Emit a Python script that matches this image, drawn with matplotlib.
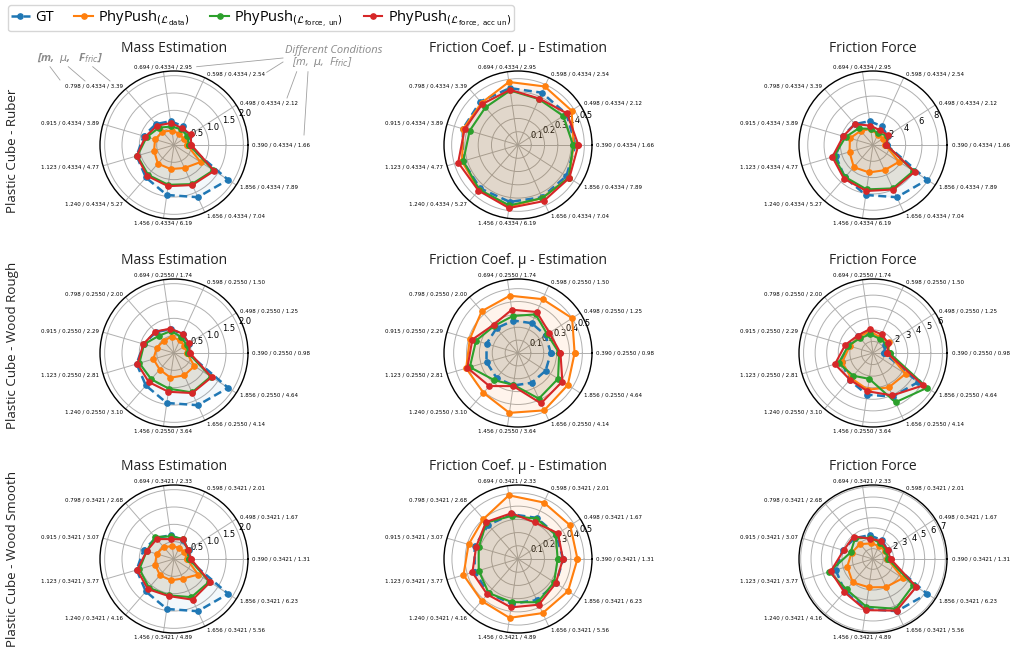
import numpy as np
import matplotlib
matplotlib.use("Agg")
import matplotlib.pyplot as plt
from matplotlib.lines import Line2D
from matplotlib.ticker import MaxNLocator
import matplotlib.transforms as mtransforms

# ---------------- data ----------------
mass = [0.390, 0.498, 0.598, 0.694, 0.798, 0.915, 1.123, 1.240, 1.456, 1.656, 1.856]
mu_ruber, mu_rough, mu_smooth = 0.4334, 0.2550, 0.3421
F_ruber = [1.66, 2.12, 2.54, 2.95, 3.39, 3.89, 4.77, 5.27, 6.19, 7.04, 7.89]
F_rough = [0.98, 1.25, 1.50, 1.74, 2.00, 2.29, 2.81, 3.10, 3.64, 4.14, 4.64]
F_smooth = [1.31, 1.67, 2.01, 2.33, 2.68, 3.07, 3.77, 4.16, 4.89, 5.56, 6.23]

# Ruber
ruber_mass_data = [0.38, 0.33, 0.36, 0.42, 0.51, 0.57, 0.60, 0.71, 0.70, 0.73, 0.91]
ruber_mass_fun = [0.44, 0.46, 0.50, 0.54, 0.66, 0.82, 1.10, 1.14, 1.16, 1.24, 1.35]
ruber_mass_facc = [0.50, 0.57, 0.54, 0.64, 0.74, 0.86, 1.12, 1.18, 1.20, 1.27, 1.38]
ruber_mu_data = [0.42, 0.48, 0.485, 0.48, 0.42, 0.43, 0.44, 0.45, 0.47, 0.44, 0.455]
ruber_mu_fun = [0.415, 0.405, 0.38, 0.415, 0.375, 0.38, 0.43, 0.445, 0.46, 0.44, 0.455]
ruber_mu_facc = [0.455, 0.44, 0.385, 0.42, 0.41, 0.42, 0.47, 0.455, 0.48, 0.465, 0.46]
ruber_F_data = [1.5, 1.45, 1.4, 2.0, 2.3, 2.95, 3.0, 3.6, 3.4, 3.4, 3.8]
ruber_F_fun = [1.65, 2.1, 1.6, 2.0, 2.7, 3.5, 5.0, 5.2, 5.5, 5.85, 5.9]
ruber_F_facc = [1.65, 2.2, 2.0, 2.4, 3.4, 3.8, 5.2, 5.45, 5.7, 6.0, 6.07]

# Wood rough
rough_mass_data = [0.37, 0.36, 0.40, 0.48, 0.46, 0.52, 0.62, 0.63, 0.72, 0.71, 0.70]
rough_mass_fun = [0.41, 0.43, 0.51, 0.64, 0.66, 0.90, 1.04, 1.00, 1.04, 1.25, 1.26]
rough_mass_facc = [0.46, 0.51, 0.61, 0.71, 0.82, 0.92, 1.10, 1.11, 1.13, 1.27, 1.29]
rough_mu_data = [0.44, 0.50, 0.46, 0.45, 0.43, 0.39, 0.42, 0.41, 0.47, 0.49, 0.46]
rough_mu_fun = [0.32, 0.27, 0.33, 0.29, 0.28, 0.34, 0.39, 0.28, 0.25, 0.39, 0.37]
rough_mu_facc = [0.33, 0.29, 0.35, 0.34, 0.29, 0.37, 0.41, 0.34, 0.26, 0.43, 0.41]
rough_F_data = [1.3, 1.68, 1.5, 1.9, 1.85, 2.1, 2.77, 2.88, 3.2, 3.27, 3.34]
rough_F_fun = [1.43, 1.4, 1.36, 1.63, 1.7, 2.23, 3.1, 2.6, 2.26, 4.68, 5.56]
rough_F_facc = [1.23, 1.56, 1.77, 2.08, 2.0, 2.5, 3.43, 3.05, 3.34, 4.03, 5.17]

# Wood smooth
smooth_mass_data = [0.37, 0.35, 0.36, 0.37, 0.46, 0.52, 0.57, 0.62, 0.62, 0.62, 0.83]
smooth_mass_fun = [0.44, 0.48, 0.64, 0.66, 0.84, 0.82, 1.04, 1.10, 1.06, 1.21, 1.21]
smooth_mass_facc = [0.49, 0.49, 0.62, 0.58, 0.76, 0.82, 1.11, 1.15, 1.08, 1.29, 1.24]
smooth_mu_data = [0.45, 0.47, 0.47, 0.487, 0.40, 0.39, 0.43, 0.42, 0.45, 0.45, 0.45]
smooth_mu_fun = [0.30, 0.34, 0.335, 0.33, 0.365, 0.31, 0.31, 0.34, 0.33, 0.36, 0.325]
smooth_mu_facc = [0.34, 0.36, 0.305, 0.35, 0.37, 0.33, 0.36, 0.355, 0.37, 0.38, 0.34]
smooth_F_data = [1.4, 1.43, 1.4, 1.53, 1.9, 2.16, 2.6, 3.0, 2.77, 3.0, 3.43]
smooth_F_fun = [1.47, 1.5, 1.7, 2.08, 2.65, 2.26, 4.42, 3.9, 4.66, 5.3, 4.65]
smooth_F_facc = [1.7, 1.67, 1.9, 2.0, 2.88, 2.97, 4.27, 4.24, 5.0, 5.5, 4.98]

row_names = ["Plastic Cube - Ruber", "Plastic Cube - Wood Rough", "Plastic Cube - Wood Smooth"]
col_titles = ["Mass Estimation", "Friction Coef. \u03bc - Estimation", "Friction Force"]
series_names = ["GT",
                r"PhyPush$_{(\mathcal{L}_{\mathrm{data}})}$",
                r"PhyPush$_{(\mathcal{L}_{\mathrm{force,\ un}})}$",
                r"PhyPush$_{(\mathcal{L}_{\mathrm{force,\ acc\ un}})}$"]
colors = ["#1f77b4", "#ff7f0e", "#2ca02c", "#d62728"]

rows = [
    (mu_ruber, F_ruber,
     [ruber_mass_data, ruber_mass_fun, ruber_mass_facc],
     [ruber_mu_data, ruber_mu_fun, ruber_mu_facc],
     [ruber_F_data, ruber_F_fun, ruber_F_facc]),
    (mu_rough, F_rough,
     [rough_mass_data, rough_mass_fun, rough_mass_facc],
     [rough_mu_data, rough_mu_fun, rough_mu_facc],
     [rough_F_data, rough_F_fun, rough_F_facc]),
    (mu_smooth, F_smooth,
     [smooth_mass_data, smooth_mass_fun, smooth_mass_facc],
     [smooth_mu_data, smooth_mu_fun, smooth_mu_facc],
     [smooth_F_data, smooth_F_fun, smooth_F_facc]),
]

# ---------------- figure ----------------
plt.rcParams["font.family"] = ["Open Sans", "DejaVu Sans"]
W, H = 1021, 653
fig = plt.figure(figsize=(W / 100, H / 100), dpi=100)

n = len(mass)
angles = np.arange(n) * 2 * np.pi / n
closed = np.append(angles, angles[0])

col_cx = [174, 518, 873]
row_cy = [145, 353, 559]
title_base = [52.5, 264, 469.5]
R = 74
LABEL_OFF = 4.5  # px outward from the circle

handles = None
for ri, (mu, F, pm, pmu, pF) in enumerate(rows):
    labels = [f"{m:.3f} / {mu:.4f} / {f:.2f}" for m, f in zip(mass, F)]
    gts = [mass, [mu] * n, F]
    preds = [pm, pmu, pF]
    for ci in range(3):
        cx, cy = col_cx[ci], row_cy[ri]
        ax = fig.add_axes([(cx - R) / W, 1 - (cy + R) / H, 2 * R / W, 2 * R / H],
                          projection="polar")
        series = [gts[ci]] + preds[ci]
        hs = []
        for si, vals in enumerate(series):
            v = np.append(vals, vals[0])
            ls = (0, (3.2, 1.8)) if si == 0 else "-"
            h, = ax.plot(closed, v, color=colors[si], ls=ls, lw=1.8 if si == 0 else 1.5,
                         marker="o", ms=3.8, zorder=3 + si)
            ax.fill(closed, v, color=colors[si], alpha=0.05 if si == 0 else 0.08, zorder=2)
            hs.append(h)
        handles = hs
        vmax = max(max(s) for s in series)
        rmax = vmax * 1.15
        ax.set_ylim(0, rmax)
        ticks = MaxNLocator(nbins=8, steps=[1, 2, 5, 10]).tick_values(0, rmax)
        ax.set_yticks([t for t in ticks if 0 < t <= rmax * 1.0001])
        ax.set_xticks(angles)
        ax.set_xticklabels([])
        ax.tick_params(axis="x", size=0)
        for lab, ang in zip(labels, angles):
            c, s = np.cos(ang), np.sin(ang)
            ha = "left" if c > 0.2 else ("right" if c < -0.2 else "center")
            tr = mtransforms.offset_copy(ax.transData, fig=fig, x=LABEL_OFF * c,
                                         y=LABEL_OFF * s, units="dots")
            ax.text(ang, rmax, lab, transform=tr, ha=ha, va="center", fontsize=4,
                    family="DejaVu Sans", clip_on=False)
        ax.tick_params(axis="y", labelsize=6)
        for t in ax.get_yticklabels():
            t.set_family("DejaVu Sans")
        ax.grid(color="#b0b0b0", lw=0.7)
        ax.spines["polar"].set_linewidth(1.0)
        fig.text(cx / W, 1 - title_base[ri] / H, col_titles[ci], ha="center", va="baseline",
                 fontsize=10, color="#222222")
    fig.text(13 / W, 1 - [151, 345, 559][ri] / H, row_names[ri], rotation=90,
             ha="center", va="center", fontsize=9.6, color="#222222")

leg = fig.legend(handles, series_names, loc="upper left", bbox_to_anchor=(8 / W, 1 - 5 / H),
                 borderaxespad=0, ncol=4, fontsize=10.5, frameon=True, handlelength=1.3,
                 columnspacing=1.4, borderpad=0.2, handletextpad=0.35)

# ---------------- annotations ----------------
gray = "#8a8a8a"
fig.text(37 / W, 1 - 58 / H, r"[m,  $\mu$,   F$_{fric}$]", fontsize=8, color=gray,
         style="italic", weight="bold", ha="left", va="center")
fig.text(285 / W, 1 - 50 / H, "Different Conditions", fontsize=8, color=gray,
         style="italic", ha="left", va="center")
fig.text(292 / W, 1 - 62 / H, r"[m,  $\mu$,  F$_{fric}$]", fontsize=8, color=gray,
         style="italic", ha="left", va="center")
segs = [((50, 66.7), (60, 80)), ((68.3, 66.7), (85, 81)), ((92.7, 66.7), (110, 81)),
        ((283, 58), (196.7, 66.7)), ((283, 62), (266.7, 72.3)),
        ((296.7, 71.7), (287, 98)), ((308, 71.7), (304, 135))]
for (x0, y0), (x1, y1) in segs:
    fig.add_artist(Line2D([x0 / W, x1 / W], [1 - y0 / H, 1 - y1 / H], color="#a0a0a0",
                          lw=0.6, transform=fig.transFigure))

fig.savefig("out.png", dpi=100)
